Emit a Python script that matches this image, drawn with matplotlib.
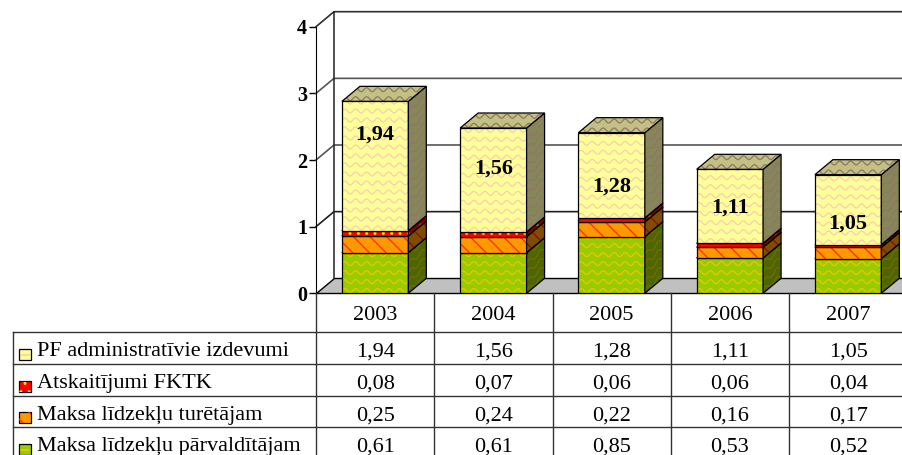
import numpy as np
import matplotlib
matplotlib.use('Agg')
import matplotlib.pyplot as plt
import matplotlib.transforms as mtransforms
from matplotlib.patches import Polygon, Rectangle
from matplotlib.collections import LineCollection

plt.rcParams['font.family'] = ['Liberation Serif', 'DejaVu Serif']

# dati
years = ['2003', '2004', '2005', '2006', '2007']
series_names = ['PF administratīvie izdevumi', 'Atskaitījumi FKTK',
                'Maksa līdzekļu turētājam', 'Maksa līdzekļu pārvaldītājam']
parvalditajam = [0.61, 0.61, 0.85, 0.53, 0.52]
turetajam = [0.25, 0.24, 0.22, 0.16, 0.17]
fktk = [0.08, 0.07, 0.06, 0.06, 0.04]
pf_admin = [1.94, 1.56, 1.28, 1.11, 1.05]
y_ticks = [0, 1, 2, 3, 4]

# stacking order bottom -> top
stack = [parvalditajam, turetajam, fktk, pf_admin]
# front, side, top colours and pattern (kind, colour) for each layer
styles = [
    dict(front='#99CC00', side='#4C6600', top='#6F9400', pat=('wave', '#F0C400'), spat='#7A6A00'),
    dict(front='#FF9900', side='#804C00', top='#B36B00', pat=('hatch', '#FF3300'), spat='#801A00'),
    dict(front='#FF0000', side='#800000', top='#B30000', pat=('dots', '#FFE000'), spat='#806A00'),
    dict(front='#FFFF99', side='#86865A', top='#C2C084', pat=('wave', '#FCCCB0'), spat='#8E7862'),
]
label_dy = [31, 11, -11, -1, -14]   # Excel label placement, pixels

W, H = 902, 455
fig = plt.figure(figsize=(W / 100, H / 100), dpi=100)

# plot area (front plane)
x_left, y_zero, y_four, x_right = 316, 293.3, 26.7, 902
col_w = 118.25
ax = fig.add_axes([x_left / W, (H - y_zero) / H, (x_right - x_left) / W, (y_zero - y_four) / H])
ax.set_xlim(-0.5, (x_right - x_left) / col_w - 0.5)
ax.set_ylim(0, 4)
ax.patch.set_visible(False)
for s in ['top', 'right', 'bottom']:
    ax.spines[s].set_visible(False)
ax.spines['left'].set_zorder(50)
ax.set_xticks([])
ax.set_yticks(y_ticks)
ax.set_yticklabels([str(t) for t in y_ticks], fontsize=14.5, fontweight='bold')
ax.tick_params(axis='y', length=5, width=1, pad=1.5)

px_x = col_w            # pixels per x unit
px_y = (y_zero - y_four) / 4
DX, DY = 18 / px_x, 15 / px_y     # 3D depth
bw = 66.4 / px_x
xr = 6

# walls and floor
ax.add_patch(Polygon([(-0.5, 0), (-0.5 + DX, DY), (-0.5 + DX, 4 + DY), (-0.5, 4)],
                     closed=True, fc='white', ec='none', zorder=1, clip_on=False))
ax.add_patch(Polygon([(-0.5, 0), (xr, 0), (xr, DY), (-0.5 + DX, DY)],
                     closed=True, fc='#C0C0C0', ec='black', lw=1, zorder=2, clip_on=False))
grid_c = ['#202020', '#555555', '#555555', '#303030']
for k in range(1, 5):
    ax.plot([-0.5, -0.5 + DX, xr], [k, k + DY, k + DY], color=grid_c[k - 1], lw=1.2,
            zorder=2, clip_on=False)
ax.plot([-0.5 + DX, -0.5 + DX], [DY, 4 + DY], color='#202020', lw=1.1, zorder=2, clip_on=False)

WP, WA, WS = 11 / px_x, 2.0 / px_y, 9 / px_y


def add_pattern(patch, kind, color, x0, x1, y0, y1, shear, z):
    if kind == 'wave':
        xs = np.linspace(x0, x1, 80)
        segs = []
        for yb in np.arange(y0 - 0.5, y1 + 0.3, WS):
            ys = yb + WA * np.sin(2 * np.pi * (xs - x0) / WP) + shear * (xs - x0)
            segs.append(np.column_stack([xs, ys]))
        lc = LineCollection(segs, colors=color, lw=0.9, zorder=z)
        ax.add_collection(lc, autolim=False)
        lc.set_clip_path(patch)
    else:
        hatch = '\\\\' if kind == 'hatch' else '..'
        ov = Polygon(patch.get_xy(), closed=True, fc='none', ec=color, lw=0, hatch=hatch, zorder=z)
        ax.add_patch(ov)


def face(pts, fc, kind, pcol, shear, z):
    p = Polygon(pts, closed=True, fc=fc, ec='none', zorder=z)
    ax.add_patch(p)
    xs = [q[0] for q in pts]
    ys = [q[1] for q in pts]
    add_pattern(p, kind, pcol, min(xs), max(xs), min(ys), max(ys), shear, z + 0.1)
    ax.add_patch(Polygon(pts, closed=True, fc='none', ec='black', lw=0.9, zorder=z + 0.2))


z = 10
for i in range(len(years)):
    x0, x1 = i - bw / 2, i + bw / 2
    base = 0
    for vals, st in zip(stack, styles):
        top = base + vals[i]
        kind, pcol = st['pat']
        face([(x0, base), (x1, base), (x1, top), (x0, top)], st['front'], kind, pcol, 0, z)
        face([(x1, base), (x1 + DX, base + DY), (x1 + DX, top + DY), (x1, top)],
             st['side'], kind, st['spat'], DY / DX, z + 1)
        face([(x0, top), (x1, top), (x1 + DX, top + DY), (x0 + DX, top + DY)],
             st['top'], kind, st['spat'], 0, z + 2)
        base = top
        z += 3
    seg_mid = base - pf_admin[i] / 2
    ax.annotate(f'{pf_admin[i]:.2f}'.replace('.', ','), (i, seg_mid), xytext=(0, label_dy[i]),
                textcoords='offset pixels', ha='center', va='center', fontsize=16,
                fontweight='bold', zorder=200)

# data table under the chart
tab = fig.add_axes([0, 0, 1, 1])
tab.set_xlim(0, W)
tab.set_ylim(H, 0)
tab.axis('off')
bt = mtransforms.blended_transform_factory(ax.transData, tab.transData)

line_c = '#333333'
row_edges = [331.5, 363.5, 395.5, 427, 458.5]
for yy in row_edges:
    tab.plot([13, W], [yy, yy], color=line_c, lw=1)
tab.plot([13, 13], [row_edges[0], H], color=line_c, lw=1)
for b in np.arange(-0.5, len(years) + 0.5, 1):
    tab.plot([b, b], [y_zero, H], color=line_c, lw=1, transform=bt, clip_on=False)

for i, yr in enumerate(years):
    tab.text(i, 315.5, yr, transform=bt, ha='center', va='center', fontsize=16)

rows = [pf_admin, fktk, turetajam, parvalditajam]
row_styles = [styles[3], styles[2], styles[1], styles[0]]
for r, (name, vals, st) in enumerate(zip(series_names, rows, row_styles)):
    yc = (row_edges[r] + row_edges[r + 1]) / 2
    tab.text(37, yc + 4, name, ha='left', va='center', fontsize=16)
    key = Rectangle((19, yc + 1), 12, 11, fc=st['front'], ec='black', lw=0.9, zorder=5)
    tab.add_patch(key)
    kind, pcol = st['pat']
    if kind == 'wave':
        tab.plot([21, 29], [yc + 7.5, yc + 7.5], color=pcol, lw=1.2, zorder=6)
    else:
        hatch = '\\\\' if kind == 'hatch' else '..'
        tab.add_patch(Rectangle((19, yc + 1), 12, 11, fc='none', ec=pcol, lw=0,
                                hatch=hatch, zorder=6))
    for i, v in enumerate(vals):
        tab.text(i, yc + 4.5, f'{v:.2f}'.replace('.', ','), transform=bt,
                 ha='center', va='center', fontsize=16)

fig.savefig('out.png', dpi=100)
